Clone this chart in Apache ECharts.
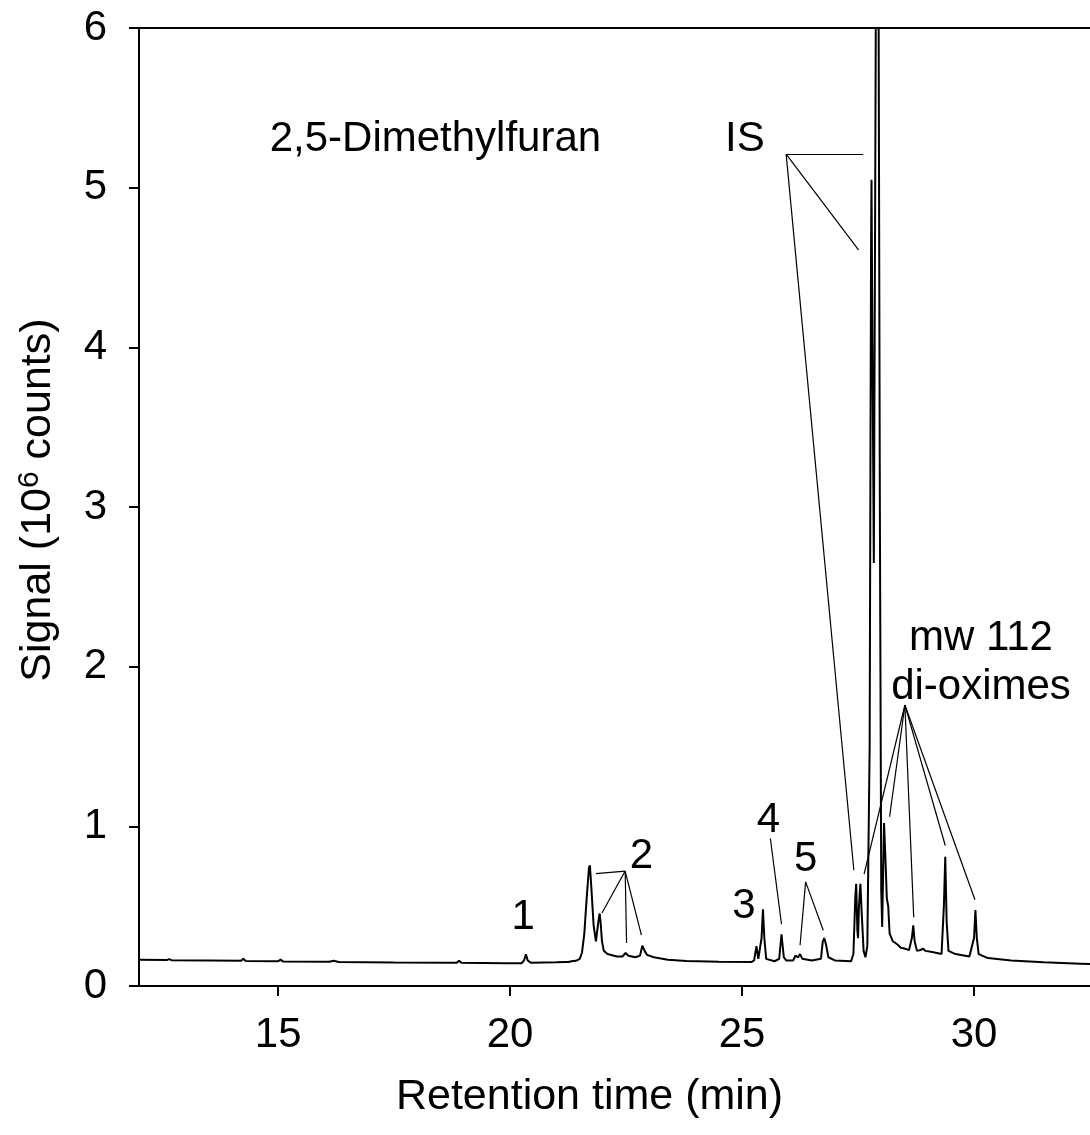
<!DOCTYPE html>
<html>
<head>
<meta charset="utf-8">
<script src="https://cdn.jsdelivr.net/npm/echarts@6/dist/echarts.min.js"></script>
<style>
  html, body { margin: 0; padding: 0; background: #fff; }
  #chart { width: 1090px; height: 1135px; }
</style>
</head>
<body>
<div id="chart"></div>
<script>
// Chromatogram trace: [retention time (min), signal (10^6 counts)]
const trace = [
  [12.0,0.165],[12.6,0.163],[12.65,0.168],[12.7,0.162],[13.5,0.160],[14.2,0.158],[14.25,0.170],[14.3,0.157],
  [15.0,0.155],[15.05,0.165],[15.1,0.154],[16.1,0.152],[16.2,0.158],[16.3,0.150],[17.5,0.147],
  [18.85,0.145],[18.9,0.158],[18.95,0.145],[19.9,0.143],[20.25,0.143],[20.3,0.16],[20.34,0.199],[20.38,0.16],
  [20.45,0.145],[21.0,0.148],[21.18,0.15],[21.22,0.16],[21.26,0.15],[21.32,0.155],[21.36,0.165],[21.42,0.158],
  [21.5,0.17],[21.55,0.21],[21.6,0.33],[21.65,0.55],[21.7,0.74],[21.72,0.756],[21.75,0.62],[21.8,0.38],
  [21.85,0.28],[21.88,0.29],[21.91,0.42],[21.93,0.454],[21.95,0.40],[21.98,0.28],[22.02,0.22],[22.1,0.2],
  [22.3,0.185],[22.42,0.185],[22.49,0.207],[22.55,0.19],[22.7,0.18],[22.8,0.19],[22.85,0.253],[22.9,0.22],
  [22.95,0.195],[23.1,0.18],[23.4,0.165],[23.8,0.157],[24.5,0.152],[25.2,0.15],[25.26,0.16],[25.31,0.25],
  [25.35,0.17],[25.38,0.16],[25.42,0.3],[25.45,0.48],[25.48,0.3],[25.52,0.17],[25.7,0.155],[25.8,0.17],
  [25.85,0.324],[25.9,0.18],[25.95,0.16],[26.1,0.16],[26.15,0.19],[26.18,0.2],[26.21,0.18],[26.25,0.2],
  [26.3,0.17],[26.5,0.16],[26.7,0.17],[26.74,0.28],[26.77,0.30],[26.81,0.26],[26.86,0.18],[27.0,0.16],
  [27.35,0.155],[27.4,0.2],[27.44,0.55],[27.46,0.64],[27.485,0.35],[27.5,0.30],[27.52,0.5],[27.55,0.64],
  [27.58,0.45],[27.62,0.22],[27.66,0.18],[27.7,0.25],[27.75,1.5],[27.78,4.6],[27.79,5.05],[27.81,4.0],
  [27.84,2.65],[27.87,5.0],[27.9,7.5],[27.92,8.0],[27.94,6.5],[27.97,3.0],[28.0,0.6],[28.02,0.37],
  [28.04,0.7],[28.06,1.02],[28.09,0.8],[28.12,0.55],[28.15,0.5],[28.18,0.33],[28.25,0.28],[28.35,0.26],
  [28.42,0.24],[28.45,0.25],[28.5,0.235],[28.6,0.225],[28.66,0.3],[28.69,0.38],[28.72,0.28],[28.77,0.22],
  [28.85,0.225],[28.9,0.235],[28.95,0.22],[29.1,0.213],[29.3,0.2],[29.35,0.5],[29.38,0.81],[29.41,0.4],
  [29.45,0.22],[29.6,0.2],[29.9,0.185],[30.0,0.3],[30.03,0.475],[30.06,0.3],[30.1,0.2],[30.3,0.175],
  [30.8,0.16],[31.5,0.148],[32.3,0.14],[32.5,0.138]
];

const xTicks = [15, 20, 25, 30];
const yTicks = [0, 1, 2, 3, 4, 5, 6];

// Text annotations, placed in data units: [label, x, y]
const labels = [
  ['2,5-Dimethylfuran', 18.39, 5.30],
  ['IS', 25.06, 5.30],
  ['1', 20.28, 0.43],
  ['2', 22.83, 0.81],
  ['3', 25.04, 0.50],
  ['4', 25.57, 1.04],
  ['5', 26.37, 0.79],
  ['mw 112', 30.15, 2.18],
  ['di-oximes', 30.15, 1.87]
];

// Leader lines: [x1, y1, x2, y2]
const leaders = [
  [22.48,0.72, 21.85,0.704], [22.48,0.72, 21.98,0.457], [22.48,0.72, 22.51,0.27], [22.48,0.72, 22.83,0.318],
  [25.61,0.924, 25.85,0.387],
  [26.37,0.652, 26.25,0.255], [26.37,0.652, 26.75,0.349],
  [25.95,5.21, 27.61,5.21], [25.95,5.21, 27.51,4.61], [25.95,5.21, 27.41,0.725],
  [28.51,1.76, 27.63,0.70], [28.51,1.76, 28.18,1.06], [28.51,1.76, 28.70,0.43], [28.51,1.76, 29.38,0.88], [28.51,1.76, 30.02,0.54]
];

const FONT = '"Liberation Sans", Arial, sans-serif';
const FS = 42;
const NAME_FS = 43;

const chart = echarts.init(document.getElementById('chart'), null, { renderer: 'canvas' });

chart.setOption({
  animation: false,
  backgroundColor: '#ffffff',
  grid: { left: 139, top: 28, right: -8, bottom: 149, show: false, containLabel: false },
  xAxis: [{
    type: 'value', min: 12, max: 32.5, interval: 5,
    axisLine: { show: true, lineStyle: { color: '#000', width: 2 } },
    axisTick: { show: true, inside: false, length: 10, lineStyle: { color: '#000', width: 2 },
      customValues: xTicks },
    axisLabel: { color: '#000', fontFamily: FONT, fontSize: FS, margin: 28, customValues: xTicks },
    splitLine: { show: false },
    name: 'Retention time (min)', nameLocation: 'middle', nameGap: 90,
    nameTextStyle: { color: '#000', fontFamily: FONT, fontSize: NAME_FS, padding: [0, 50, 0, 0] }
  }, {
    type: 'value', min: 12, max: 32.5, position: 'top',
    axisLine: { show: true, onZero: false, lineStyle: { color: '#000', width: 2 } },
    axisTick: { show: false }, axisLabel: { show: false }, splitLine: { show: false }
  }],
  yAxis: [{
    type: 'value', min: 0, max: 6, interval: 1,
    axisLine: { show: true, lineStyle: { color: '#000', width: 2 } },
    axisTick: { show: true, inside: false, length: 10, lineStyle: { color: '#000', width: 2 } },
    axisLabel: { color: '#000', fontFamily: FONT, fontSize: FS, margin: 32, customValues: yTicks },
    splitLine: { show: false },
    name: '{a|Signal (10}{s|6}{a| counts)}', nameLocation: 'middle', nameGap: 78, nameRotate: 90,
    nameTextStyle: { color: '#000', fontFamily: FONT, fontSize: NAME_FS, padding: [0, 0, 0, 14],
      rich: {
        a: { fontFamily: FONT, fontSize: NAME_FS, color: '#000' },
        s: { fontFamily: FONT, fontSize: 30, color: '#000', verticalAlign: 'top', padding: [0, 0, 16, 0] }
      } }
  }],
  series: [{
    type: 'line',
    data: trace,
    showSymbol: false,
    symbol: 'none',
    clip: true,
    lineStyle: { color: '#000', width: 2 },
    markLine: {
      silent: true, symbol: 'none', animation: false,
      label: { show: false },
      lineStyle: { color: '#000', width: 1.2, type: 'solid' },
      data: leaders.map(l => [{ coord: [l[0], l[1]] }, { coord: [l[2], l[3]] }])
    }
  }, {
    // text annotations anchored at data positions
    type: 'scatter',
    symbolSize: 0,
    silent: true,
    itemStyle: { color: '#000', opacity: 1 },
    data: labels.map(l => ({ value: [l[1], l[2]], name: l[0] })),
    label: {
      show: true, position: 'inside', formatter: p => p.name, opacity: 1,
      color: '#000', textBorderWidth: 0, textBorderColor: 'transparent',
      fontFamily: FONT, fontSize: FS
    }
  }]
});
</script>
</body>
</html>
